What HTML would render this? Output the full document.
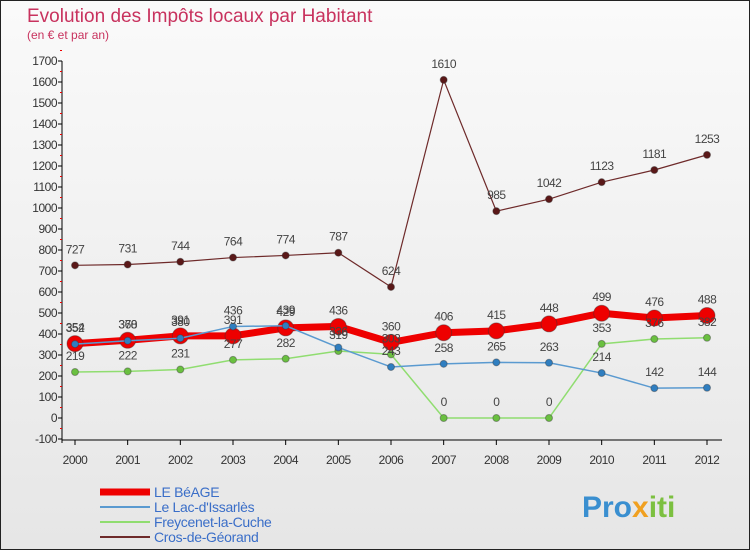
<!DOCTYPE html>
<html><head><meta charset="utf-8"><style>
body{margin:0;width:750px;height:550px;overflow:hidden;font-family:"Liberation Sans",sans-serif}
#wrap{position:absolute;left:0;top:0;width:748px;height:548px;border:1px solid #222;background:linear-gradient(#fafafa,#e6e6e6)}
</style></head><body>
<div id="wrap">
<svg id="c" width="750" height="550" style="position:absolute;left:-1px;top:-1px">
<text x="27" y="22" font-size="19" fill="#c8325e">Evolution des Impôts locaux par Habitant</text>
<text x="27" y="39" font-size="12" fill="#c8325e">(en € et par an)</text>
<g id="axes"></g><g id="series"></g><g id="legend"></g>
<text x="582" y="517" font-size="30" font-weight="bold" fill="#3a8fd0">Pro<tspan fill="#f0a020">x</tspan><tspan fill="#7cc040">iti</tspan></text>
</svg></div>
<script>
const years=[2000,2001,2002,2003,2004,2005,2006,2007,2008,2009,2010,2011,2012];
const yTicks=[-100,0,100,200,300,400,500,600,700,800,900,1000,1100,1200,1300,1400,1500,1600,1700];
const leBeage=[354,370,391,391,429,436,360,406,415,448,499,476,488];
const lacIssarles=[352,368,380,436,439,336,243,258,265,263,214,142,144];
const freycenet=[219,222,231,277,282,319,303,0,0,0,353,376,382];
const cros=[727,731,744,764,774,787,624,1610,985,1042,1123,1181,1253];
const names=["LE BéAGE","Le Lac-d'Issarlès","Freycenet-la-Cuche","Cros-de-Géorand"];
const NS="http://www.w3.org/2000/svg";
const X=i=>75+i*(707-75)/(years.length-1);
const Y=v=>418-v*0.21;
function mk(tag,attrs,parent){const e=document.createElementNS(NS,tag);for(const k in attrs)e.setAttribute(k,attrs[k]);parent.appendChild(e);return e;}
const ax=document.getElementById('axes');
const yl=mk('line',{x1:62,x2:62,y1:Y(1700),y2:Y(-100)+4,stroke:'#000'},ax);


yTicks.forEach(t=>{
 const l=mk('line',{x1:58,x2:62,y1:Y(t),y2:Y(t),stroke:'#000'},ax);
 
 
 const m=mk('line',{x1:60,x2:62,y1:Y(t+50),y2:Y(t+50),stroke:'#e00'},ax);
 
 
 const tx=mk('text',{x:57,y:Y(t)+4,'font-size':12,'text-anchor':'end',fill:'#333','letter-spacing':'-0.5'},ax);
 tx.textContent=t;
 
 
});
const xl=mk('line',{x1:62,x2:722,y1:440,y2:440,stroke:'#000'},ax);


years.forEach((y,i)=>{
 const l=mk('line',{x1:X(i),x2:X(i),y1:440,y2:445,stroke:'#000'},ax);
 
 
 const tx=mk('text',{x:X(i),y:464,'font-size':12,'text-anchor':'middle',fill:'#333','letter-spacing':'-0.5'},ax);
 tx.textContent=y;
 
 
});
const sg=document.getElementById('series');
const defs=[[cros,'#6e2a2a','#5a1818',1.2,3.5,'cros'],[freycenet,'#90dd70','#6ac040',1.5,3.5,'freycenet'],[lacIssarles,'#5a9ad0','#2f7ec0',1.5,3.5,'lac-issarles'],[leBeage,'#ee0000','#ee0000',7,8,'le-beage']];
function draw(d){
 const [vals,col,dot,w,r,nm]=d;
 const p=mk('polyline',{points:vals.map((v,i)=>X(i)+','+Y(v)).join(' '),fill:'none',stroke:col,'stroke-width':w},sg);
 
 
 vals.forEach((v,i)=>{
  const c=mk('circle',{cx:X(i),cy:Y(v),r:r,fill:dot,stroke:'#333','stroke-opacity':0.4},sg);
  
  
 });
}
function lab(d){
 const [vals,,,,,nm]=d;
 vals.forEach((v,i)=>{
  const t=mk('text',{x:X(i),y:Y(v)-12,'font-size':12,'text-anchor':'middle',fill:'#444','letter-spacing':'-0.5'},sg);
  t.textContent=v;
  
  
 });
}
draw(defs[0]);draw(defs[1]);draw(defs[3]);draw(defs[2]);
defs.forEach(lab);
const lg=document.getElementById('legend');
const lc=['#ee0000','#5a9ad0','#90dd70','#6e2a2a'],lw=[7,2,2,2];
names.forEach((n,i)=>{
 const y=492+i*15;
 const l=mk('line',{x1:100,x2:150,y1:y,y2:y,stroke:lc[i],'stroke-width':lw[i]},lg);
 
 
 const t=mk('text',{x:154,y:y+5,'font-size':14,fill:'#3a6ec8','letter-spacing':'-0.3'},lg);
 t.textContent=n;
 
 
});
</script>
</body></html>
